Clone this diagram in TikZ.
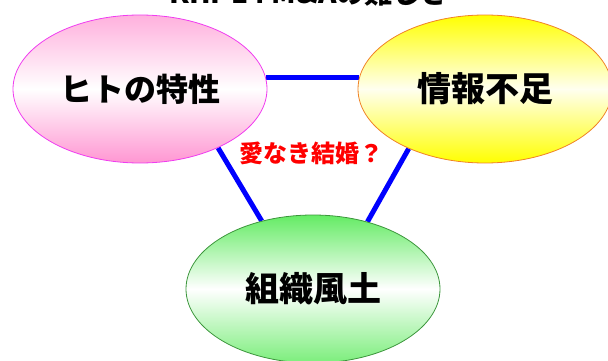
\documentclass[tikz,border=0pt]{standalone}
\usepackage{fontspec}
\setmainfont{Noto Sans CJK JP}
\usetikzlibrary{shapes.geometric,backgrounds}
\definecolor{pinkfill}{RGB}{255,150,210}
\definecolor{pinkline}{RGB}{240,60,240}
\definecolor{yelfill}{RGB}{255,255,0}
\definecolor{yelline}{RGB}{240,130,40}
\definecolor{grnfill}{RGB}{100,235,100}
\definecolor{grnline}{RGB}{60,150,60}
\definecolor{conblue}{RGB}{0,0,255}
\definecolor{redtxt}{RGB}{255,0,0}
\tikzset{
  ell/.style={ellipse, minimum width=254pt, minimum height=148pt, inner sep=0pt, line width=0.8pt,
    font=\fontsize{34}{38}\selectfont\bfseries},
  pinkell/.style={ell, draw=pinkline, top color=pinkfill!75!white, bottom color=pinkfill, middle color=white},
  yelell/.style={ell, draw=yelline, top color=yelfill, bottom color=yelfill, middle color=yelfill!6!white},
  grnell/.style={ell, draw=grnline, top color=grnfill, bottom color=grnfill!85!white, middle color=white},
  conn/.style={draw=conblue, line width=5pt},
}
\begin{document}
\begin{tikzpicture}[x=1pt,y=-1pt]
\useasboundingbox (0,0) rectangle (608,361);
\node[anchor=base, font=\fontsize{28}{32}\selectfont\bfseries] (title) at (309,4) {KHI-14 M\&Aの難しさ};
\node[pinkell, font=\fontsize{32}{36}\selectfont\bfseries] (hito) at (140,89) {ヒトの特性};
\node[yelell] (joho) at (485,89) {情報不足};
\node[grnell] (soshiki) at (313,289) {組織風土};
\node[font=\fontsize{24}{28}\selectfont\bfseries, text=redtxt] (ai) at (311,153) {愛なき結婚？};
\begin{pgfonlayer}{background}
\draw[conn] (hito.5) -- (joho.175);
\draw[conn] (hito.-37) -- (soshiki.127);
\draw[conn] (joho.-142) -- (soshiki.51);
\end{pgfonlayer}
\end{tikzpicture}
\end{document}
